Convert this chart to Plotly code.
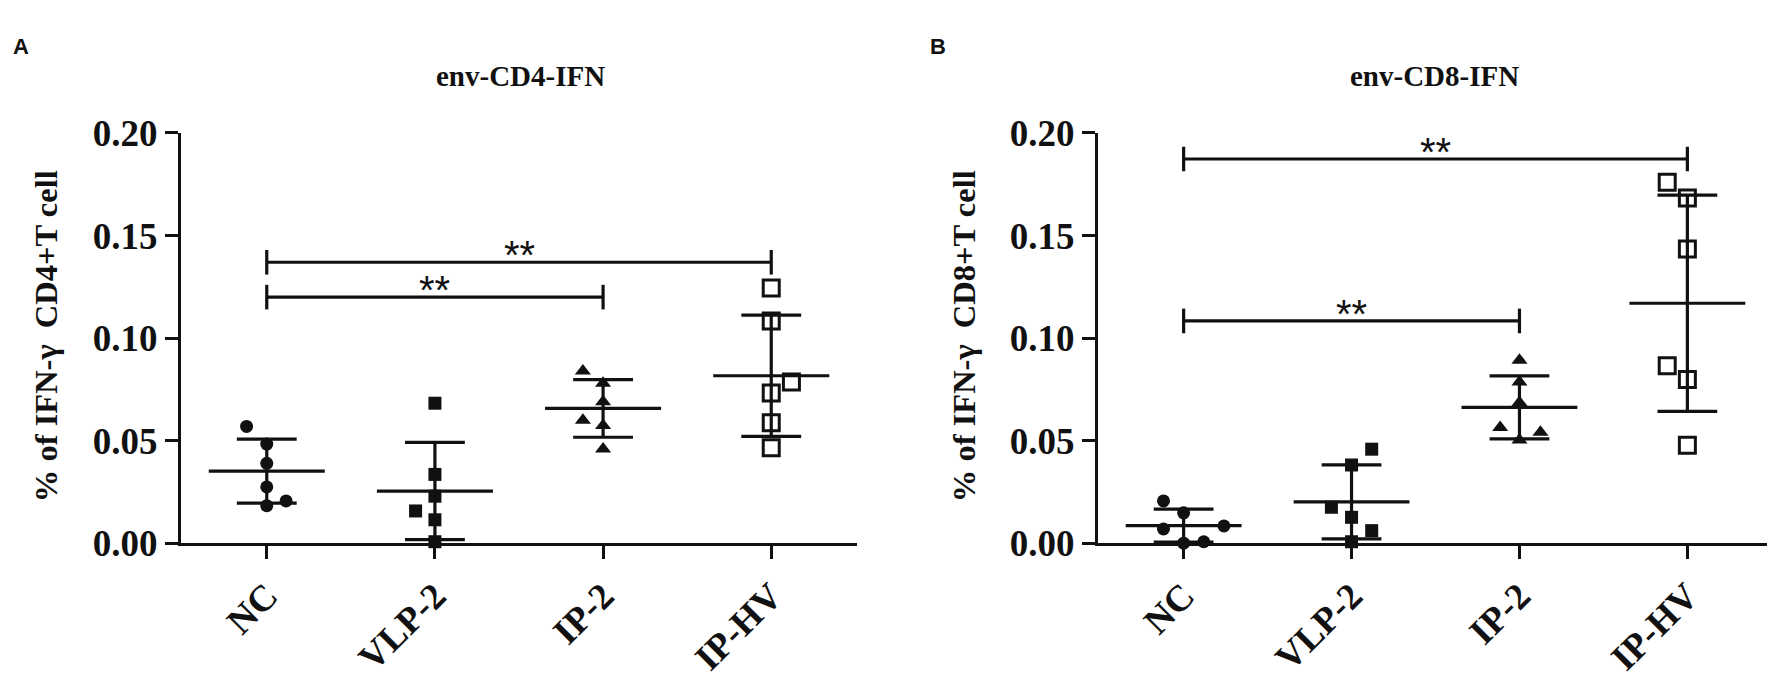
import numpy as np
import plotly.graph_objects as go

# ---------------- data ----------------
categories = ["NC", "VLP-2", "IP-2", "IP-HV"]

# Panel A: env-CD4-IFN (% of IFN-gamma CD4+ T cell)
a_nc = [0.057, 0.0484, 0.039, 0.0275, 0.0184, 0.0207]
a_vlp2 = [0.0683, 0.0336, 0.023, 0.0158, 0.0115, 0.0008]
a_ip2 = [0.084, 0.078, 0.069, 0.060, 0.0575, 0.046]
a_iphv = [0.1244, 0.1084, 0.0786, 0.0733, 0.0588, 0.0466]

# Panel B: env-CD8-IFN (% of IFN-gamma CD8+ T cell)
b_nc = [0.0207, 0.0149, 0.007, 0.0085, 0.0001, 0.0008]
b_vlp2 = [0.0459, 0.0382, 0.0176, 0.0127, 0.0062, 0.0008]
b_ip2 = [0.0893, 0.0786, 0.0687, 0.0565, 0.0542, 0.0504]
b_iphv = [0.176, 0.1683, 0.1435, 0.0866, 0.0799, 0.0478]

# horizontal scatter (jitter) of the dots, in category units
a_nc_jit = [-0.12, 0, 0, 0, 0, 0.115]
a_vlp2_jit = [0, 0, 0, -0.115, 0, 0]
a_ip2_jit = [-0.12, 0, 0, -0.12, 0, 0]
a_iphv_jit = [0, 0, 0.12, 0, 0, 0]
b_nc_jit = [-0.12, 0, -0.12, 0.24, 0, 0.12]
b_vlp2_jit = [0.12, 0, -0.12, 0, 0.12, 0]
b_ip2_jit = [0, 0, 0, -0.115, 0.125, 0]
b_iphv_jit = [-0.12, 0, 0, -0.12, 0, 0]

# significance brackets: (from group, to group, height, label)
a_brackets = [(0, 2, 0.120, "**"), (0, 3, 0.137, "**")]
b_brackets = [(0, 2, 0.1084, "**"), (0, 3, 0.1873, "**")]

y_ticks = [0.00, 0.05, 0.10, 0.15, 0.20]

# ---------------- styling ----------------
BLACK = "#111111"
SERIF = "Liberation Serif"
SANS = "Liberation Sans"
W, H = 1775, 679
symbols = ["circle", "square", "triangle-up", "square-open"]
msizes = [13, 13, 14, 16]
MEAN_HW = 0.345
CAP_HW = 0.178
LW = 3.2

fig = go.Figure()


def add_panel(groups, jitters, brackets, xaxis, yaxis):
    xref = xaxis.replace("axis", "")
    yref = yaxis.replace("axis", "")
    for i, (vals, jit) in enumerate(zip(groups, jitters)):
        vals = np.array(vals)
        xs = [i + j for j in jit]
        fig.add_trace(go.Scatter(
            x=xs, y=vals, mode="markers", xaxis=xref, yaxis=yref,
            marker=dict(symbol=symbols[i], size=msizes[i], color=BLACK,
                        line=dict(color=BLACK, width=3 if i == 3 else 0)),
            cliponaxis=False, showlegend=False, hoverinfo="skip"))
        m = vals.mean()
        s = vals.std(ddof=1)
        lx = [i - MEAN_HW, i + MEAN_HW, None,
              i - CAP_HW, i + CAP_HW, None,
              i - CAP_HW, i + CAP_HW, None,
              i, i]
        ly = [m, m, None, m + s, m + s, None, m - s, m - s, None, m + s, m - s]
        fig.add_trace(go.Scatter(
            x=lx, y=ly, mode="lines", xaxis=xref, yaxis=yref,
            line=dict(color=BLACK, width=LW), cliponaxis=False,
            showlegend=False, hoverinfo="skip"))
    for (g0, g1, h, lab) in brackets:
        cap = 0.006
        fig.add_trace(go.Scatter(
            x=[g0, g0, None, g0, g1, None, g1, g1],
            y=[h - cap, h + cap, None, h, h, None, h - cap, h + cap],
            mode="lines", xaxis=xref, yaxis=yref,
            line=dict(color=BLACK, width=LW), cliponaxis=False,
            showlegend=False, hoverinfo="skip"))
        fig.add_annotation(x=(g0 + g1) / 2, y=h, xref=xref, yref=yref,
                           text=lab, showarrow=False, yanchor="bottom",
                           xanchor="center", yshift=-17,
                           font=dict(family=SANS, size=40, color=BLACK))


add_panel([a_nc, a_vlp2, a_ip2, a_iphv],
          [a_nc_jit, a_vlp2_jit, a_ip2_jit, a_iphv_jit],
          a_brackets, "xaxis", "yaxis")
add_panel([b_nc, b_vlp2, b_ip2, b_iphv],
          [b_nc_jit, b_vlp2_jit, b_ip2_jit, b_iphv_jit],
          b_brackets, "xaxis2", "yaxis2")

ydom = [1 - 548.5 / H, 1 - 111.7 / H]
xcommon = dict(range=[-0.51, 3.51], tickmode="array", tickvals=[0, 1, 2, 3],
               ticktext=categories, tickangle=-45, showline=True,
               linecolor=BLACK, linewidth=LW, ticks="outside", ticklen=13,
               tickwidth=LW, tickcolor=BLACK, showgrid=False, zeroline=False,
               tickfont=dict(family=SERIF, size=37, color=BLACK, weight="bold"))
ycommon = dict(range=[0, 0.2], tickmode="array", tickvals=y_ticks,
               ticktext=[f"{v:.2f}" for v in y_ticks], showline=True,
               linecolor=BLACK, linewidth=LW, ticks="outside", ticklen=13,
               tickwidth=LW, tickcolor=BLACK, showgrid=False, zeroline=False,
               domain=ydom,
               tickfont=dict(family=SERIF, size=37, color=BLACK, weight="bold"))

fig.update_layout(
    width=W, height=H, margin=dict(l=0, r=0, t=0, b=0),
    paper_bgcolor="white", plot_bgcolor="white",
    xaxis=dict(domain=[173 / W, 849 / W], anchor="y", **xcommon),
    yaxis=dict(anchor="x", **ycommon),
    xaxis2=dict(domain=[1090 / W, 1765 / W], anchor="y2", **xcommon),
    yaxis2=dict(anchor="x2", **ycommon),
)

# titles, axis titles, panel letters
for xc, title in [(512, "env-CD4-IFN"), (1426, "env-CD8-IFN")]:
    fig.add_annotation(x=xc / W, y=1 - 51 / H, xref="paper", yref="paper",
                       text=title, showarrow=False,
                       xanchor="center", yanchor="middle",
                       font=dict(family=SERIF, size=29, color=BLACK, weight="bold"))
for xc, ytitle in [(38, "% of IFN-\u03b3\u00a0\u00a0CD4+T cell"),
                   (956, "% of IFN-\u03b3\u00a0\u00a0CD8+T cell")]:
    fig.add_annotation(x=xc / W, y=1 - 328 / H, xref="paper", yref="paper",
                       text=ytitle, showarrow=False, textangle=-90,
                       xanchor="center", yanchor="middle",
                       font=dict(family=SERIF, size=32.5, color=BLACK, weight="bold"))
for xc, letter in [(13, "A"), (930, "B")]:
    fig.add_annotation(x=xc / W, y=1 - 20 / H, xref="paper", yref="paper",
                       text=letter, showarrow=False,
                       xanchor="center", yanchor="middle",
                       font=dict(family=SANS, size=22, color=BLACK, weight="bold"))

fig.write_html("out.html")
